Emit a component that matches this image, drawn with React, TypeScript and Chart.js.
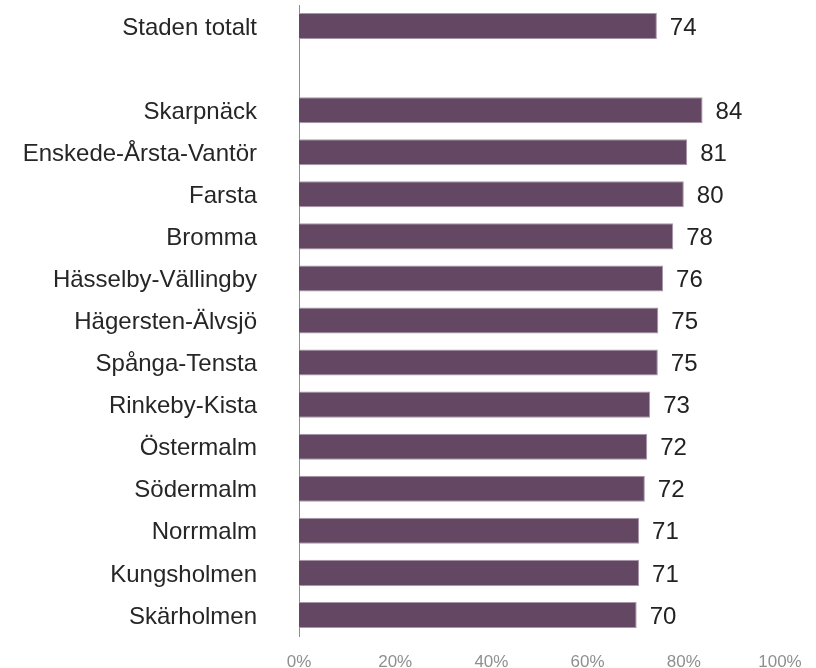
import React, { useEffect, useRef } from "react";
import { Chart, registerables } from "chart.js";

Chart.register(...registerables);

const categories: string[] = [
  "Staden totalt",
  "",
  "Skarpnäck",
  "Enskede-Årsta-Vantör",
  "Farsta",
  "Bromma",
  "Hässelby-Vällingby",
  "Hägersten-Älvsjö",
  "Spånga-Tensta",
  "Rinkeby-Kista",
  "Östermalm",
  "Södermalm",
  "Norrmalm",
  "Kungsholmen",
  "Skärholmen",
];

const values: (number | null)[] = [
  74.4, null, 83.9, 80.7, 80.0, 77.8, 75.7, 74.7, 74.6, 73.0, 72.4, 71.9, 70.7, 70.7, 70.2,
];

const tickValues: number[] = [0, 20, 40, 60, 80, 100];

const FONT = "'Liberation Sans', Arial, sans-serif";

const valueLabels = {
  id: "valueLabels",
  afterDatasetsDraw(chart: any) {
    const ctx = chart.ctx;
    const meta = chart.getDatasetMeta(0);
    ctx.save();
    ctx.font = `24px ${FONT}`;
    ctx.fillStyle = "#222222";
    ctx.textAlign = "left";
    ctx.textBaseline = "middle";
    meta.data.forEach((bar: any, i: number) => {
      const v = values[i];
      if (v === null || v === undefined) return;
      ctx.fillText(String(Math.round(v)), bar.x + 13, bar.y + 2);
    });
    ctx.restore();
  },
};

export default function App() {
  const ref = useRef<HTMLCanvasElement | null>(null);
  useEffect(() => {
    if (!ref.current) return;
    const chart = new Chart(ref.current, {
      type: "bar",
      data: {
        labels: categories,
        datasets: [
          {
            data: values as any,
            backgroundColor: "#634763",
            borderColor: "#a896a8",
            borderWidth: 1,
            barPercentage: 0.62,
            categoryPercentage: 1,
          },
        ],
      },
      options: {
        indexAxis: "y",
        animation: false,
        responsive: true,
        maintainAspectRatio: false,
        layout: { padding: { top: 5, right: 36, left: 0, bottom: 0 } },
        plugins: {
          legend: { display: false },
          tooltip: { enabled: false },
        },
        scales: {
          x: {
            min: 0,
            max: 100,
            afterFit: (s: any) => {
              s.height = 32;
              s.paddingLeft = 0;
              s.paddingRight = 0;
            },
            afterBuildTicks: (s: any) => {
              s.ticks = tickValues.map((v) => ({ value: v }));
            },
            grid: { display: false, drawTicks: false },
            border: { display: false },
            ticks: {
              padding: 16,
              color: "#8f8f8f",
              font: { family: FONT, size: 17 },
              maxRotation: 0,
              callback: (v: any) => `${v}%`,
            },
          },
          y: {
            afterFit: (s: any) => {
              s.width = 299;
              s.paddingTop = 0;
              s.paddingBottom = 0;
            },
            grid: { display: false, drawTicks: false },
            border: { display: true, color: "#8c8c8c", width: 1 },
            ticks: {
              padding: 42,
              labelOffset: 2,
              color: "#262626",
              font: { family: FONT, size: 24 },
              autoSkip: false,
            },
          },
        },
      },
      plugins: [valueLabels],
    });
    return () => chart.destroy();
  }, []);
  return (
    <div style={{ position: "absolute", left: 0, top: 0, width: 816, height: 668 }}>
      <canvas ref={ref} />
    </div>
  );
}
